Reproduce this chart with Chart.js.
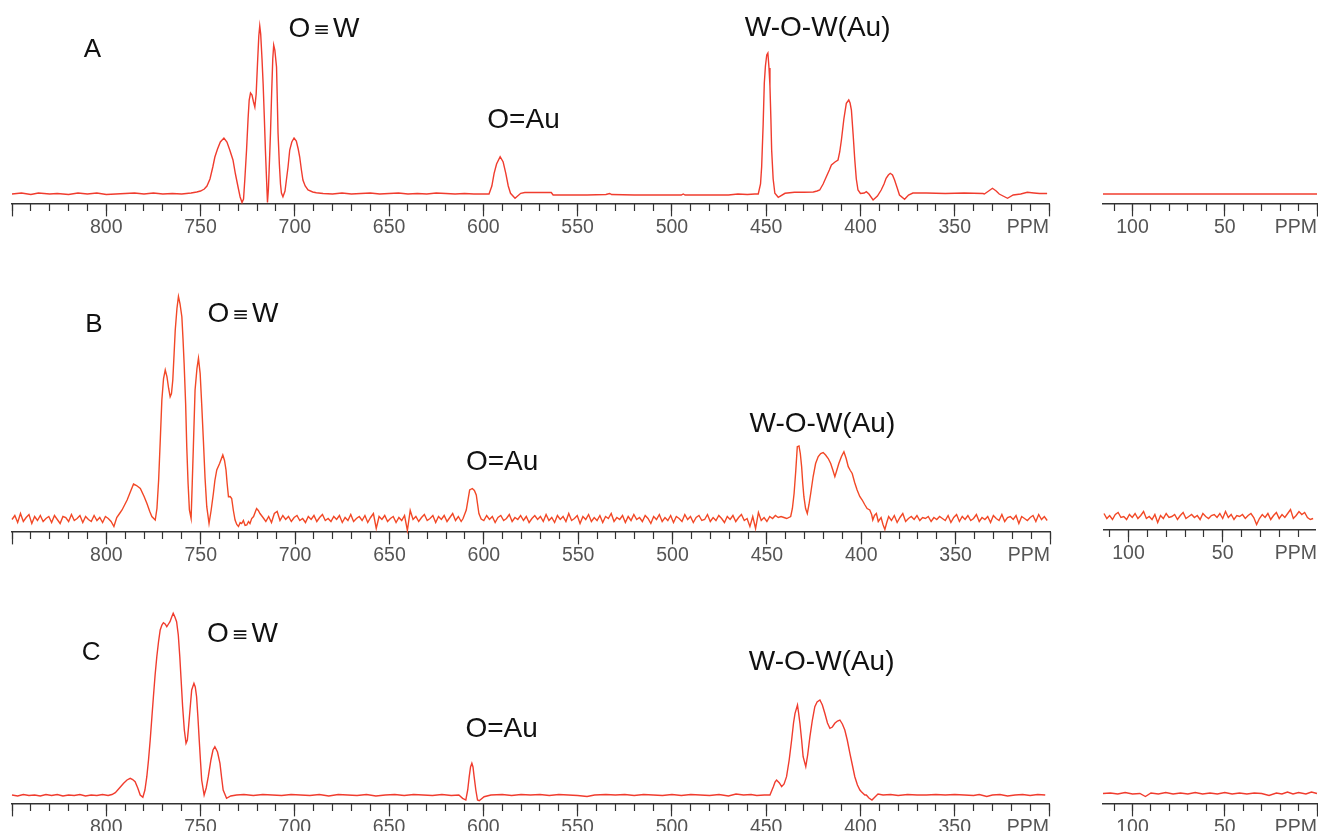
<!DOCTYPE html>
<html>
<head>
<meta charset="utf-8">
<script src="https://cdn.jsdelivr.net/npm/chart.js@4.4.1/dist/chart.umd.min.js"></script>
<style>
  html, body { margin: 0; padding: 0; background: #fff; width: 1318px; height: 831px; overflow: hidden; }
  canvas { position: absolute; }
</style>
</head>
<body>
<canvas id="mainA" width="1070" height="240" style="left:0;top:0"></canvas>
<canvas id="sideA" width="228" height="240" style="left:1090px;top:0"></canvas>
<canvas id="mainB" width="1070" height="308" style="left:0;top:260px"></canvas>
<canvas id="sideB" width="228" height="308" style="left:1090px;top:258px"></canvas>
<canvas id="mainC" width="1070" height="280" style="left:0;top:560px"></canvas>
<canvas id="sideC" width="228" height="280" style="left:1090px;top:560px"></canvas>
<script>
/* axis ticks (ppm) */
const mainMajorTicks = [850, 800, 750, 700, 650, 600, 550, 500, 450, 400, 350, 300];
const mainMinorTicks = [850, 840, 830, 820, 810, 800, 790, 780, 770, 760, 750, 740, 730, 720, 710, 700,
  690, 680, 670, 660, 650, 640, 630, 620, 610, 600, 590, 580, 570, 560, 550, 540, 530, 520, 510, 500,
  490, 480, 470, 460, 450, 440, 430, 420, 410, 400, 390, 380, 370, 360, 350, 340, 330, 320, 310, 300];
const sideMajorTicks = [100, 50, 0];
const sideMinorTicks = [110, 100, 90, 80, 70, 60, 50, 40, 30, 20, 10, 0];
const sideMajorTicksB = [100, 50];
const sideMinorTicksB = [110, 100, 90, 80, 70, 60, 50, 40, 30, 20, 10];
const hiddenTickLabels = [850, 300, 0];

/* spectrum A: [ppm, intensity] */
const specA = [[850,0],[845,1],[840,-0.5],[836,1],[830,0],[826,0.5],[820,-0.5],[815,1],[810,0],[805,1],
  [800,-0.5],[795,0],[790,0.5],[785,1],[780,0],[775,1],[770,0],[765,0.5],[760,0],[755,1],[752,2],[750,3],
  [748,5],[746.6,8],[745,15],[743.5,27],[742.4,37],[741,45],[739.5,52],[737.6,56],[736,52],[734.5,44],
  [732.8,34],[731.5,20],[730,6],[729,-3],[728,-8.5],[727.2,-5],[726.5,15],[725.6,44],[724.8,75],[724.2,94],
  [723.5,101],[722.7,99],[721.9,92],[721.2,87],[720.5,100],[719.8,130],[719.1,158],[718.6,168],[718.1,160],
  [717.4,135],[716.8,110],[716.2,78],[715.6,44],[715,15],[714.5,-8.5],[714,5],[713.4,35],[712.9,61],
  [712.3,100],[711.7,135],[711.2,149],[710.6,144],[709.7,127],[709.3,95],[708.9,61],[708.2,30],[707.6,10],
  [707.1,1],[706.3,-2.7],[705.2,3],[704.4,15],[703.6,27],[702.7,44],[701.6,52],[700.4,56],[699.2,53],
  [698.2,45],[697.4,37],[696.5,24],[695.7,14],[694.5,8],[693,4],[690.5,2],[688.6,1.3],[685,0.5],[680,0],
  [675,1],[670,0],[665,0.5],[660,1],[655,0],[650,0.5],[645,1],[640,0],[635,0.5],[630,0],[625,1],[620,0.5],
  [615,0],[610,0.5],[605,0],[600,0],[597,0],[595.5,8],[594.3,20.7],[593,30],[591.1,37.3],[589.5,32],
  [588.1,20.7],[586.8,8],[585.6,0.7],[583.2,-4.3],[580.2,0.7],[578,1.5],[570,1.5],[564,1.5],[563,-1],
  [555,-1],[545,-1],[535,-0.5],[533,0.5],[532,-0.5],[520,-1],[510,-1],[500,-1],[495,-1],[494,0],[493,-1],
  [480,-1],[470,-1],[465,0],[460,-0.5],[456,0],[454.2,0],[453,10],[452.4,27.3],[451.6,70],[451,110.7],
  [450.4,128],[449.7,139],[449.1,141],[448.5,126],[448,108],[447.5,75],[447.1,44],[446.3,15],[445.4,0.7],
  [443.6,-3.3],[440,0.7],[435,1.7],[430,1.7],[425,2],[423,3],[421.6,4],[419.8,10],[418.1,17.3],[416.5,24],
  [415.4,29],[413.5,32],[411.9,34],[411,42],[410.1,54],[408.8,75],[407.5,90.7],[406.2,94],[405.5,91],
  [404.8,84],[403.9,60],[403,34],[402.2,15],[401.3,4],[400,0.5],[398,1],[396.9,2.3],[395.5,0],[393.3,-6],
  [391,-2],[389,4],[387.5,10],[386.4,15.7],[385.2,19],[384.2,20.7],[383,19],[381.9,14],[380.5,6],
  [379.3,-1],[376.6,-5.3],[374.5,-1],[372.2,1],[365,1],[355,0.5],[345,1],[335,0.5],[334.3,0],[332,3],
  [330,5.7],[328,3],[326.4,0],[322,-4.3],[319,-1],[315,0],[311.5,1.7],[308,1],[305,0.5],[301,0.5]];
const specASide = [[116,0],[60,0],[0,0]];

/* spectrum B: peaks as [ppm, intensity], noisy stretches as values every 1.5 ppm */
const bNoiseStep = 1.5;
const bNoiseStarts = [850, 717, 600, 384];
const bNoise1 = [-1,3,-4,5,-3,1,4,-5,2,-2, 3,-3,0,2,-4,3,-1,-5,2,1, -3,4,-2,0,3,-4,2,-1,-3,3, -2,1,-4,2,0,-3,-8,1,5];
const bNoise2 = [1,-3,2,-4,5,7,-2,3,-1,2, -3,1,3,-2,0,-4,2,-1,3,-3, 1,4,-2,0,-3,2,-1,3,-4,1,
  -2,4,-3,0,2,-2,3,-4,1,5, -10,2,-1,3,-3,0,2,-4,1,-2, 3,-12,8,-1,2,-3,1,4,-2,0, 3,-4,2,-1,3,-3,1,5,-2,2, -3];
const bNoise3 = [-2,3,-1,2,-4,1,3,-2,0,4, -3,1,-1,3,-2,2,-4,0,3,-1, 2,-3,4,-2,1,-4,3,-1,2,-3,
  5,-2,0,3,-5,2,-1,4,-3,1, -2,3,-4,2,0,5,-3,1,-1,3, -4,2,-2,4,-1,1,-3,3,0,-5,
  2,-1,4,-3,1,-2,3,-4,2,0, -3,4,-1,2,-4,1,3,-2,-1,4, -3,1,-2,3,0,-4,2,-1,3,-3,
  1,4,-2,0,-8,2,-10,6,-2,1, -3,2,0,3,1,2,1,0];
const bNoise4 = [-2,3,-4,1,5,-3,0,2,-1,3, -2,1,0,2,-3,1,-1,2,0,-2, 3,-4,1,4,-3,2,-1,3,-2,0,
  4,-3,1,-1,2,-4,3,0,-2,4, -3,1,2,-1,3,-5,2,0,-2,1, 3,-3,4,-1,2,-2];
const bPeaksOW = [[791.7,8.5],[789,18.5],[787,28],[785.6,34.5],[784,33],[782,30],[780,22],[778.5,15],[777,7],
  [775.9,2],[774.1,-1.5],[773.2,10],[772.3,38.5],[771.4,80],[770.6,118.5],[769.7,140],[768.8,148.5],
  [767.9,141.8],[767,130],[766.2,121.8],[765.5,125],[764.8,138.5],[764.1,165],[763.5,188.5],[762.6,210],
  [761.8,222],[761,215],[760,201.8],[759.4,180],[758.8,155],[758,115],[757.4,71.8],[756.7,35],[756,8.5],
  [755.1,0],[754.5,35],[753.9,71.8],[753,128.5],[752,150],[751.2,160.2],[750.3,145],[749.5,115],[748.6,78.5],
  [747.7,40],[746.8,11.8],[745.6,-5],[744.5,8],[743.3,25],[742.5,38],[741.5,48.5],[740,55],[738.3,63.5],
  [737.4,58],[736.6,48.5],[736,35],[735.3,21.8],[734.4,22],[733.6,20],[732.7,8],[731.8,-1.5],[730.9,-6],
  [730,-8],[729.1,-4],[728.3,-5],[727.4,-2],[726.5,-7],[725.6,-6.5],[724.7,-3],[723.9,-5],[723,0],[722,2],
  [721.2,6],[720.4,10],[719.5,8],[718.6,5]];
const bPeaksOAu = [[611,0],[609.3,8.5],[607.5,28.5],[606.1,30],[605,28],[604,23.5],[602.6,5],[601.4,-0.5]];
const bPeaksWOW = [[437.4,2],[436.5,10],[435.6,25],[434.7,48],[433.9,71.8],[433,72.5],[432.3,65],[431.6,51.8],
  [431,35],[430.4,21.8],[429.5,10],[428.6,5],[427.7,14],[426.8,25],[425.5,42],[424.2,55],[422.8,62],[421.5,65],
  [420.2,66],[418.9,63.5],[417.5,60],[416.2,55],[415,48],[414,41.8],[413,48],[411.9,55],[410.5,62],[409.2,66.8],
  [408,60],[406.9,51.8],[405.8,48],[404.8,45],[403.5,36],[402.2,28.5],[400.8,22],[399.5,18.5],[398.2,14],
  [396.9,10],[395.5,8.5],[394.5,4],[393.9,-1.5],[393,3],[392,5],[391,-3],[389.5,1],[388.5,-6],[387.5,-11],
  [386.5,-4],[385.5,2]];
const bSideStart = 113;
const bSide = [3,-2,1,-3,2,4,-1,0,-3,2, -1,3,-2,1,5,-2,0,-3,2,-6, 1,-2,3,-1,0,2,-3,1,4,-2,
  0,2,-1,1,-3,3,0,-2,1,2, -1,3,-2,5,-1,2,-3,1,0,2, -2,1,3,-1,-8,-2,2,-1,3,-3, 1,4,-2,2,-1,3,7,-2,1,5, 2,4,-1,-3,-2];

/* spectrum C: [ppm, intensity] */
const specC = [[850,0],[847,-1],[844,0.5],[841,-0.5],[838,0],[835,-1],[832,0.5],[829,-0.5],[826,0.5],[823,-1],
  [820,0],[817,-0.5],[814,0.5],[811,-1],[808,0],[805,-0.5],[802,0.5],[799,-0.5],[797,0.5],[795.2,2.3],[793,7],
  [790.8,11.7],[789,15],[787.3,16.7],[786,15.5],[784.7,13.3],[783.3,7],[782,0],[780.6,-2.3],[779.5,5],
  [778.5,18.3],[777.6,35],[776.7,55],[775.8,78],[775,98.3],[774.1,120],[773.2,138.3],[772.3,153],[771.4,165],
  [770.5,170],[769.7,172.3],[768.8,171],[767.9,168.3],[767,171],[766.2,173.3],[765.3,178],[764.5,181.7],
  [763.6,178],[762.7,173.3],[761.8,160],[761,138.3],[760.3,115],[759.5,88.3],[758.6,65],[757.7,51.7],[757,55],
  [756.5,65],[755.6,85],[754.7,105],[753.5,111.7],[752.8,108],[752.1,98.3],[751.4,78],[750.7,55],[750,33],
  [749.4,15],[748.1,0],[747,7],[745.9,18.3],[744.5,35],[743.4,45],[742.4,48.3],[741,43],[739.7,31.7],
  [738.8,17],[738,5],[736.2,-3.3],[734,-1],[730.9,0],[727,0.5],[722,-0.5],[717,0.5],[712,0],[707,-0.5],
  [702,0.5],[697,0],[692,-0.5],[687,0.5],[682,-1],[677,0.5],[672,0],[667,-0.5],[662,0.5],[657,-1],[652,0],
  [647,0.5],[642,-0.5],[637,0.5],[632,0],[627,-0.5],[622,0.5],[617,-0.5],[613,0],[611,-3.3],[609.3,-5],
  [608.3,5],[607.5,18.3],[606.8,28],[606.1,31.7],[605.5,28],[604.9,18.3],[604,5],[603.1,-5],[602.2,-5.7],
  [599.6,-1.7],[596,0],[590,0.5],[585,-0.5],[580,0.5],[575,0],[570,0.5],[565,-0.5],[560,0.5],[555,0],
  [550,-0.5],[545,-1.5],[541,0],[535,0.5],[530,0],[525,0.5],[520,-0.5],[515,0.5],[510,0],[505,-0.5],
  [500,0.5],[495,-0.5],[490,0.5],[485,0],[480,-0.5],[475,0.5],[470,-1],[466,1],[462,0],[458,0.5],[455,-0.5],
  [451,0],[448,0],[446.2,8.3],[445.3,13],[444.5,15],[443,12],[441.8,8.3],[440.5,11],[439.2,18.3],[437.8,35],
  [436.5,55],[435.5,72],[434.7,81.7],[433.4,90],[432.8,82],[432.1,71.7],[431.2,55],[430.4,38.3],[429,28.3],
  [428,40],[426.8,58.3],[425.5,75],[424.2,88.3],[423,93],[421.5,95],[420.2,90],[418.9,81.7],[417.5,72],
  [416.2,66.7],[414.9,68],[413.6,71.7],[412.2,74],[410.9,75],[409.6,71],[408.3,65],[407,55],[405.6,41.7],
  [404.3,30],[403,18.3],[401.6,10],[400.3,5],[399.5,3.3],[397.7,0],[396.9,0],[395.5,-3],[393.9,-5],
  [392.3,-2],[390.7,1],[388,0],[384,0.5],[380,-0.5],[375,0.5],[370,0],[365,0],[360,0.5],[355,0],[350,0.5],
  [345,0],[340,-0.5],[337,0.5],[333,-1.5],[330,0],[326,0.5],[322,-1],[318,0],[314,0.5],[310,-0.5],[306,0.5],[302,0]];
const specCSide = [[116,1.5],[112,2],[108,1],[104,2.5],[100,1],[96,1.5],[93,-1.5],[90,2],[86,1],[82,2.5],[78,1],
  [74,2],[70,1],[66,2.5],[62,1],[58,2],[54,1],[50,2.5],[46,1],[42,2],[38,1],[34,2],[30,1.5],[26,-0.5],[22,2],
  [19,1],[16,3],[13,1],[10,2.5],[6,1],[3,3],[0,1.5]];

// stepped noise values -> [ppm, intensity]
function stepped(start, step, vals) {
  return vals.map((v, i) => [start - i * step, v]);
}

const specB = [].concat(
  stepped(bNoiseStarts[0], bNoiseStep, bNoise1), bPeaksOW,
  stepped(bNoiseStarts[1], bNoiseStep, bNoise2), bPeaksOAu,
  stepped(bNoiseStarts[2], bNoiseStep, bNoise3), bPeaksWOW,
  stepped(bNoiseStarts[3], bNoiseStep, bNoise4)
).sort((a, b) => b[0] - a[0]);
const specBSide = stepped(bSideStart, bNoiseStep, bSide);

const tickFont = { family: 'Liberation Sans', size: 19.5 };

// text labels + "PPM" unit at the end of each axis
const annotate = {
  id: 'annotate',
  afterDraw(chart, args, opts) {
    const ctx = chart.ctx;
    const xs = chart.scales.x, ys = chart.scales.y;
    ctx.save();
    ctx.fillStyle = '#111';
    ctx.textBaseline = 'alphabetic';
    ctx.textAlign = 'left';
    (opts.items || []).forEach(it => {
      const parts = it.text.split(/(≡)/).filter(s => s);
      const fonts = parts.map(p => p === '≡' ? '20px "DejaVu Sans"' : it.size + 'px "Liberation Sans"');
      const gaps = parts.map(p => p === '≡' ? 3 : 0);
      let total = 0;
      const widths = parts.map((p, i) => {
        ctx.font = fonts[i];
        const w = ctx.measureText(p).width + 2 * gaps[i];
        total += w;
        return w;
      });
      let x = xs.getPixelForValue(it.ppm) - total / 2;
      const y = ys.getPixelForValue(it.y);
      parts.forEach((p, i) => {
        ctx.font = fonts[i];
        ctx.fillText(p, x + gaps[i], p === '≡' ? y - 1 : y);
        x += widths[i];
      });
    });
    ctx.font = tickFont.size + 'px "' + tickFont.family + '"';
    ctx.fillStyle = '#555';
    ctx.textAlign = 'right';
    ctx.textBaseline = 'middle';
    ctx.fillText('PPM', chart.chartArea.right + (opts.unitShift || 0), chart.chartArea.bottom + 12 + tickFont.size * 0.6);
    ctx.restore();
  }
};

function axis(cfg, ticks, len, main) {
  return {
    type: 'linear',
    axis: 'x',
    reverse: true,
    min: cfg.xRange[1],
    max: cfg.xRange[0],
    position: { y: cfg.yRange[0] },
    afterBuildTicks: s => { s.ticks = ticks.map(v => ({ value: v })); },
    grid: { drawOnChartArea: false, tickLength: len, tickColor: '#333', tickWidth: 1.2 },
    border: { display: main, color: '#333', width: 1.4 },
    ticks: {
      display: main, autoSkip: false, maxRotation: 0, padding: 0, color: '#555',
      font: tickFont,
      callback: v => hiddenTickLabels.includes(v) ? '' : String(v)
    }
  };
}

function drawSpectrum(id, points, cfg) {
  return new Chart(document.getElementById(id), {
    type: 'line',
    data: {
      datasets: [{
        data: points.map(p => ({ x: p[0], y: p[1] })),
        borderColor: cfg.color,
        borderWidth: 1.4,
        pointRadius: 0,
        tension: 0,
        clip: false
      }]
    },
    options: {
      responsive: false,
      animation: false,
      events: [],
      layout: { padding: { left: cfg.pad[0], right: cfg.pad[1], top: 0, bottom: cfg.pad[2] } },
      plugins: {
        legend: { display: false },
        tooltip: { enabled: false },
        annotate: { items: cfg.labels || [], unitShift: cfg.unitShift || 0 }
      },
      scales: {
        y: { display: false, min: cfg.yRange[0], max: cfg.yRange[1] },
        x: axis(cfg, cfg.minor, 7, false),
        xMajor: axis(cfg, cfg.major, 12, true)
      }
    },
    plugins: [annotate]
  });
}

const red = '#f03c2e';
const redB = '#f24826';

drawSpectrum('mainA', specA, {
  color: red, pad: [12, 21, 36], xRange: [850, 300], yRange: [-10, 194],
  major: mainMajorTicks, minor: mainMinorTicks,
  labels: [
    { text: 'A', ppm: 807.4, y: 137, size: 26 },
    { text: 'O≡W', ppm: 684.5, y: 157, size: 28 },
    { text: 'O=Au', ppm: 578.7, y: 66, size: 28 },
    { text: 'W-O-W(Au)', ppm: 422.7, y: 158, size: 28 }
  ]
});
drawSpectrum('sideA', specASide, {
  color: red, pad: [13, 1, 36], xRange: [116, 0], yRange: [-10, 194],
  major: sideMajorTicks, minor: sideMinorTicks
});

drawSpectrum('mainB', specB, {
  color: redB, pad: [12, 20, 36], xRange: [850, 300], yRange: [-13.5, 258.5],
  major: mainMajorTicks, minor: mainMinorTicks,
  labels: [
    { text: 'B', ppm: 806.6, y: 186.5, size: 26 },
    { text: 'O≡W', ppm: 727.6, y: 196.5, size: 28 },
    { text: 'O=Au', ppm: 590.3, y: 48.5, size: 28 },
    { text: 'W-O-W(Au)', ppm: 420.6, y: 86.5, size: 28 }
  ]
});
drawSpectrum('sideB', specBSide, {
  color: redB, pad: [14, 3, 36], xRange: [113, 1], yRange: [-13.5, 258.5],
  major: sideMajorTicksB, minor: sideMinorTicksB, unitShift: 2
});

drawSpectrum('mainC', specC, {
  color: red, pad: [12, 21, 36], xRange: [850, 300], yRange: [-9, 235],
  major: mainMajorTicks, minor: mainMinorTicks,
  labels: [
    { text: 'C', ppm: 808, y: 135, size: 26 },
    { text: 'O≡W', ppm: 727.8, y: 153, size: 28 },
    { text: 'O=Au', ppm: 590.3, y: 58, size: 28 },
    { text: 'W-O-W(Au)', ppm: 420.6, y: 125, size: 28 }
  ]
});
drawSpectrum('sideC', specCSide, {
  color: red, pad: [13, 1, 36], xRange: [116, 0], yRange: [-9, 235],
  major: sideMajorTicks, minor: sideMinorTicks
});
</script>
</body>
</html>
